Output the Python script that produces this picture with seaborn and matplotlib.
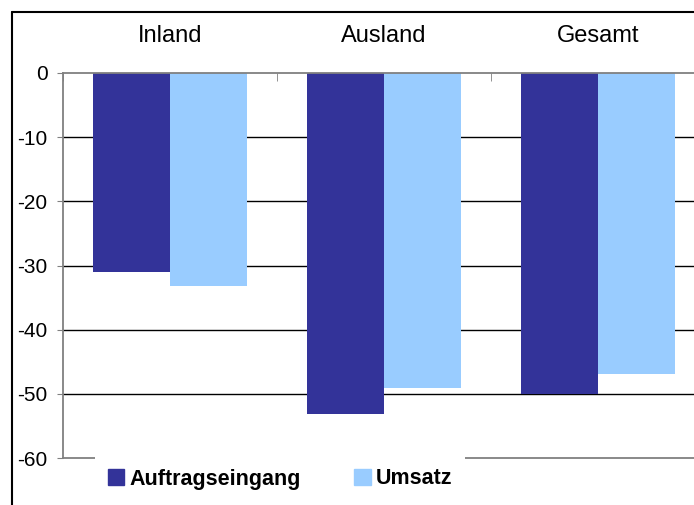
import numpy as np
import pandas as pd
import matplotlib
matplotlib.use("Agg")
import matplotlib.pyplot as plt
import seaborn as sns

# DATEN
kategorien = ["Inland", "Ausland", "Gesamt"]
auftragseingang = [-31.0, -53.1, -50.0]
umsatz = [-33.2, -49.1, -46.9]
serien = ["Auftragseingang", "Umsatz"]
y_ticks = [0, -10, -20, -30, -40, -50, -60]

df = pd.DataFrame({
    "Kategorie": kategorien * 2,
    "Wert": auftragseingang + umsatz,
    "Serie": [serien[0]] * 3 + [serien[1]] * 3,
})

sns.set_style("white")
plt.rcParams["font.family"] = ["Liberation Sans", "DejaVu Sans"]
plt.rcParams["axes.unicode_minus"] = False
plt.rcParams["text.color"] = "black"
plt.rcParams["xtick.color"] = "black"
plt.rcParams["ytick.color"] = "black"

fig = plt.figure(figsize=(6.94, 5.05), dpi=100)
ax = fig.add_axes([63 / 694, 1 - 458 / 505, 642 / 694, 385 / 505])

sns.barplot(data=df, x="Kategorie", y="Wert", hue="Serie", order=kategorien,
            hue_order=serien, palette=["#333399", "#99CCFF"], width=0.715,
            gap=0, saturation=1, linewidth=0, ax=ax, legend=False)

ax.set_ylim(-60, 0)
ax.set_xlim(-0.5, 2.5)
ax.set_yticks(y_ticks)
ax.set_yticklabels([str(v) for v in y_ticks])
ax.set_xlabel("")
ax.set_ylabel("")

# GITTERLINIEN
for v in y_ticks[1:-1]:
    ax.axhline(v, color="black", lw=1, zorder=0)

# ACHSEN
for s in ["left", "top", "bottom"]:
    ax.spines[s].set_visible(True)
    ax.spines[s].set_color("#808080")
    ax.spines[s].set_linewidth(1.3)
ax.spines["right"].set_visible(False)

ax.xaxis.tick_top()
ax.tick_params(axis="x", which="major", length=0, pad=19, labelsize=17, labelcolor="black")
ax.set_xticks([-0.5, 0.5, 1.5, 2.5], minor=True)
ax.tick_params(axis="x", which="minor", direction="in", length=6, color="#808080", top=True, bottom=False)
ax.tick_params(axis="y", direction="out", length=4, color="#808080", left=True, labelsize=15,
               pad=7, labelcolor="black")

# LEGENDE
handles = [plt.Rectangle((0, 0), 1, 1, color="#333399"),
           plt.Rectangle((0, 0), 1, 1, color="#99CCFF")]
leg = fig.legend(handles, serien, loc="center left", bbox_to_anchor=(84 / 694, 1 - 479 / 505),
                 ncol=2, frameon=True, fancybox=False, handlelength=0.75, handleheight=0.75,
                 handletextpad=0.25, columnspacing=2.5, borderpad=0.6,
                 prop={"weight": "bold", "size": 15.5})
leg.get_frame().set_facecolor("white")
leg.get_frame().set_edgecolor("none")
leg.get_frame().set_alpha(1)

# RAHMEN
fig.add_artist(plt.Line2D([12 / 694, 12 / 694], [0, 1 - 12 / 505], color="black", lw=1.5))
fig.add_artist(plt.Line2D([12 / 694, 1], [1 - 12 / 505, 1 - 12 / 505], color="black", lw=1.5))

fig.savefig("out.png", dpi=100)
